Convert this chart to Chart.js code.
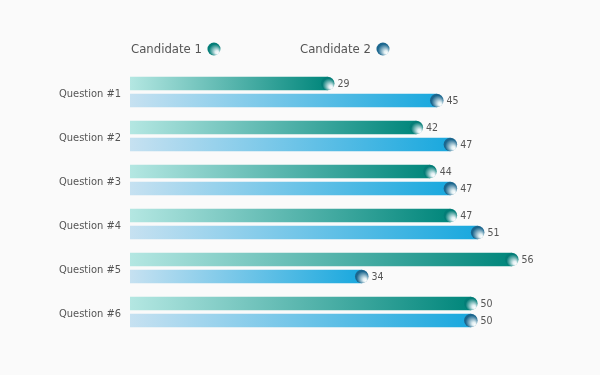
<!DOCTYPE html>
<html>
<head>
<meta charset="utf-8">
<script src="https://cdn.jsdelivr.net/npm/chart.js@4.4.1/dist/chart.umd.min.js"></script>
<style>
  html, body { margin: 0; background: #fafafa; }
  #wrap { width: 600px; height: 375px; }
</style>
</head>
<body>
<div id="wrap"><canvas id="chart"></canvas></div>
<script>
const questions = ['Question #1', 'Question #2', 'Question #3', 'Question #4', 'Question #5', 'Question #6'];
const seriesNames = ['Candidate 1', 'Candidate 2'];
const candidate1 = [29, 42, 44, 47, 56, 50];
const candidate2 = [45, 47, 47, 51, 34, 50];

const FONT = '"DejaVu Sans Condensed", "DejaVu Sans", sans-serif';
const TEXT = '#555555';

const colors = [
  { light: '#b4e7e2', dark: '#00867b', ball: '#037d77' },
  { light: '#c6e1f1', dark: '#19a8de', ball: '#1b668e' }
];

// shiny ball for the bar ends and the legend: dark top-left, white toward bottom-right
function drawBall(ctx, x, y, r, color) {
  const g = ctx.createRadialGradient(x + r * 0.6, y + r * 0.65, 0, x - r * 0.1, y - r * 0.1, r * 1.5);
  g.addColorStop(0, '#ffffff');
  g.addColorStop(0.18, '#e2f0f3');
  g.addColorStop(0.62, color);
  g.addColorStop(1, color);
  ctx.save();
  ctx.beginPath();
  ctx.arc(x, y, r, 0, Math.PI * 2);
  ctx.fillStyle = g;
  ctx.fill();
  ctx.restore();
}

function barGradient(i) {
  return function(context) {
    const chart = context.chart;
    const c = colors[i];
    if (!chart.chartArea || context.raw == null) return c.light;
    const x0 = chart.scales.x.getPixelForValue(0);
    const x1 = chart.scales.x.getPixelForValue(context.raw);
    const g = chart.ctx.createLinearGradient(x0, 0, x1, 0);
    g.addColorStop(0, c.light);
    g.addColorStop(1, c.dark);
    return g;
  };
}

const ballsAndLabels = {
  id: 'ballsAndLabels',
  afterDatasetsDraw(chart) {
    const ctx = chart.ctx;
    chart.data.datasets.forEach((ds, i) => {
      const meta = chart.getDatasetMeta(i);
      meta.data.forEach((bar, j) => {
        const r = bar.height / 2;
        drawBall(ctx, bar.x, bar.y, r, colors[i].ball);
        ctx.save();
        ctx.font = '10.5px ' + FONT;
        ctx.fillStyle = TEXT;
        ctx.textAlign = 'left';
        ctx.textBaseline = 'middle';
        ctx.fillText(ds.data[j], bar.x + r + 3, bar.y + 1);
        ctx.restore();
      });
    });
  }
};

const topLegend = {
  id: 'topLegend',
  afterDraw(chart) {
    const ctx = chart.ctx;
    const xs = [131, 300];
    ctx.save();
    ctx.font = '13px ' + FONT;
    ctx.fillStyle = TEXT;
    ctx.textBaseline = 'middle';
    seriesNames.forEach((name, i) => {
      ctx.fillText(name, xs[i], 50);
      const w = ctx.measureText(name).width;
      drawBall(ctx, xs[i] + w + 12, 49, 6.5, colors[i].ball);
    });
    ctx.restore();
  }
};

new Chart(document.getElementById('chart'), {
  type: 'bar',
  data: {
    labels: questions,
    datasets: [
      { label: seriesNames[0], data: candidate1, backgroundColor: barGradient(0) },
      { label: seriesNames[1], data: candidate2, backgroundColor: barGradient(1) }
    ]
  },
  options: {
    indexAxis: 'y',
    responsive: true,
    maintainAspectRatio: false,
    animation: false,
    layout: { padding: { top: 70, bottom: 41, left: 0, right: 61 } },
    categoryPercentage: 0.77,
    barPercentage: 0.8,
    plugins: {
      legend: { display: false },
      tooltip: { enabled: false }
    },
    scales: {
      x: {
        display: false,
        min: 0,
        max: 60
      },
      y: {
        grid: { display: false, drawTicks: false },
        border: { display: false },
        afterFit(scale) { scale.width = 130; },
        ticks: {
          padding: 9,
          labelOffset: 2,
          color: TEXT,
          font: { family: FONT, size: 11 }
        }
      }
    }
  },
  plugins: [ballsAndLabels, topLegend]
});
</script>
</body>
</html>
